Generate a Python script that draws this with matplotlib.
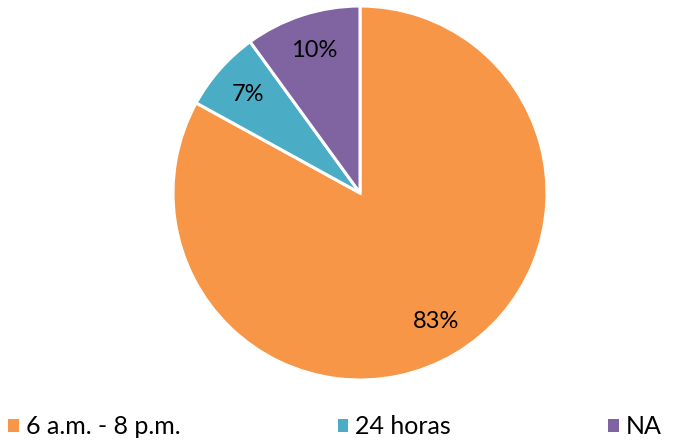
import matplotlib
matplotlib.use("Agg")
import matplotlib.pyplot as plt

categories = ["6 a.m. - 8 p.m.", "24 horas", "NA"]
values = [83, 7, 10]
colors = ["#F79646", "#4BACC6", "#8064A2"]

plt.rcParams['font.family'] = ['Lato', 'DejaVu Sans']

fig = plt.figure(figsize=(6.75, 4.41), dpi=100)
W, H = 675, 441
cx, cy, r = 360, 193, 187
ax = fig.add_axes([(cx - r) / W, 1 - (cy + r) / H, 2 * r / W, 2 * r / H])
wedges, texts, autotexts = ax.pie(
    values, colors=colors, startangle=90, counterclock=False,
    autopct=lambda p: f"{p:.0f}%", pctdistance=0.8,
    wedgeprops=dict(edgecolor="white", linewidth=2.2),
    textprops=dict(fontsize=17, color="black"))
ax.set_xlim(-1, 1)
ax.set_ylim(-1, 1)
ax.set_aspect("equal")
ax.axis("off")

leg = fig.legend(wedges, categories, loc="center left",
                 bbox_to_anchor=(8 / W, 1 - 427 / H), ncol=3,
                 frameon=False, fontsize=18, borderpad=0, borderaxespad=0,
                 handlelength=0.42, handleheight=0.42, handletextpad=0.28,
                 columnspacing=6.3)
for h in leg.legend_handles:
    h.set_linewidth(0)

fig.savefig("out.png", dpi=100)
